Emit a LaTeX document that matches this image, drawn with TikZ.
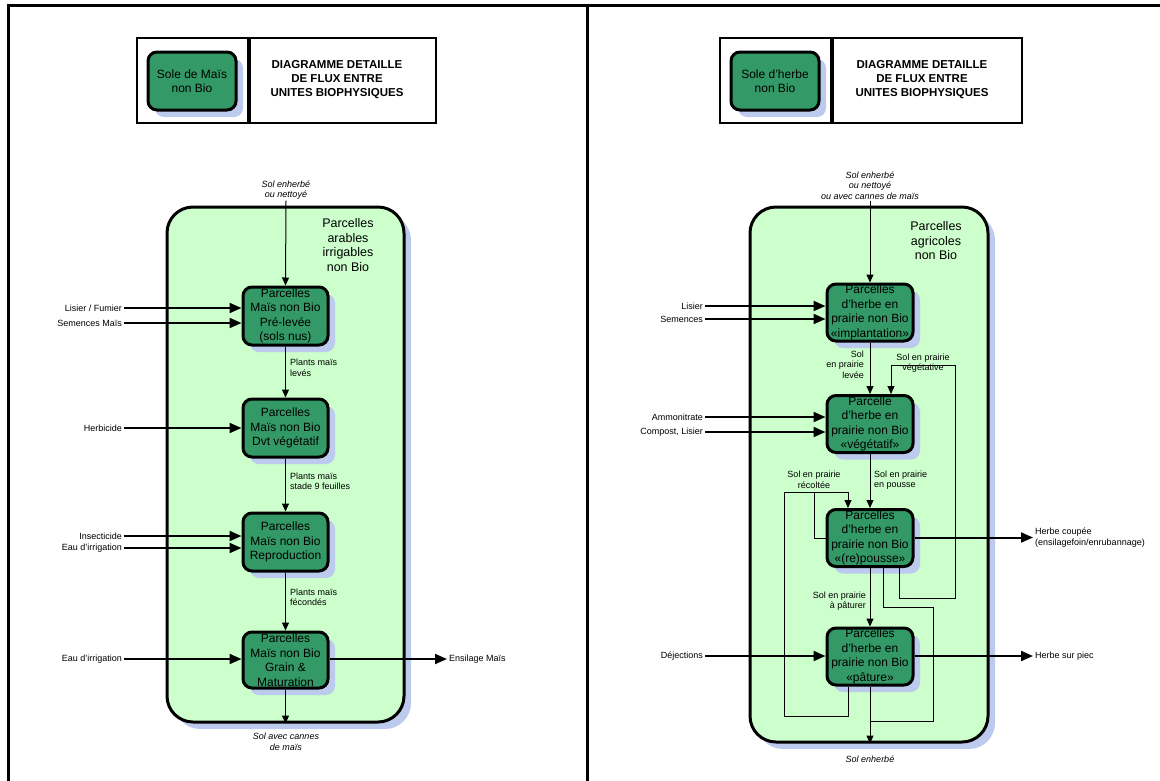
\documentclass[tikz,border=0pt]{standalone}
\usepackage{fontspec}
\setmainfont{Liberation Sans}
\usetikzlibrary{arrows.meta,shadows}
\definecolor{unitgreen}{RGB}{51,153,102}
\definecolor{zonegreen}{RGB}{204,255,204}
\definecolor{shadowblue}{RGB}{188,202,238}

\begin{document}
\begin{tikzpicture}[x=1pt,y=-1pt,
    frame/.style={line width=3pt},
    hdr/.style={draw,line width=2pt,inner sep=0pt,minimum height=85pt},
    title/.style={font=\bfseries\fontsize{11.5}{14}\selectfont,align=center},
    zone/.style={draw,line width=3pt,rounded corners=26pt,fill=zonegreen,
        drop shadow={shadow xshift=7pt,shadow yshift=-7pt,fill=shadowblue,opacity=1}},
    unit/.style={draw,line width=3pt,rounded corners=9pt,fill=unitgreen,inner sep=0pt,
        minimum width=86pt,minimum height=58pt,align=center,font=\fontsize{12}{14.5}\selectfont,
        drop shadow={shadow xshift=7pt,shadow yshift=-7pt,fill=shadowblue,opacity=1}},
    zlbl/.style={font=\fontsize{12.5}{14.5}\selectfont,align=center},
    lbl/.style={font=\fontsize{9}{10.5}\selectfont,inner sep=2pt},
    ilbl/.style={font=\itshape\fontsize{9}{10.5}\selectfont,inner sep=1pt,align=center},
    inarr/.style={line width=2pt,-{Triangle[length=12pt,width=10pt]}},
    flow/.style={line width=1pt,-{Triangle[length=8pt,width=7pt]}},
    link/.style={line width=1pt}
]
\useasboundingbox (0,0) rectangle (1160,780);
\clip (0,0) rectangle (1160,780);

% page frame
\draw[frame] (8,800) -- (8,5) -- (1180,5);
\draw[frame] (587,5) -- (587,800);

% ---------------- mais ----------------
\node[hdr,minimum width=111pt] (hla) at (192.5,80.5) {};
\node[hdr,minimum width=186pt,anchor=west] (hlb) at (hla.east) {};
\node[unit,minimum width=88pt] (sl) at (192,81) {Sole de Maïs\\non Bio};
\node[title] (tl) at (337,80) {DIAGRAMME DETAILLE\\DE FLUX ENTRE\\UNITES BIOPHYSIQUES};

\node[zone,minimum width=237pt,minimum height=515pt] (zl) at (285.5,464.5) {};
\node[zlbl] (zlt) at (348,245) {Parcelles\\arables\\irrigables\\non Bio};

\node[unit,minimum width=85pt] (l1) at (285.5,316) {Parcelles\\Maïs non Bio\\Pré-levée\\(sols nus)};
\node[unit,minimum width=85pt] (l2) at (285.5,428) {Parcelles\\Maïs non Bio\\Dvt végétatif};
\node[unit,minimum width=85pt] (l3) at (285.5,542) {Parcelles\\Maïs non Bio\\Reproduction};
\node[unit,minimum width=85pt,minimum height=56pt] (l4) at (285.5,660) {Parcelles\\Maïs non Bio\\Grain \&\\Maturation};

\node[ilbl] (lin) at (286,190) {Sol enherbé\\ou nettoyé};
\node[ilbl] (lout) at (286,742) {Sol avec cannes\\de maïs};
\draw[flow] (lin.south) -- (l1.north);
\draw[flow] (l1.south) -- (l2.north);
\draw[flow] (l2.south) -- (l3.north);
\draw[flow] (l3.south) -- (l4.north);
\draw[flow] (l4.south) -- (l4.south |- zl.south);
\node[lbl,anchor=west,align=left] (ll1) at (288,368) {Plants maïs\\levés};
\node[lbl,anchor=west,align=left] (ll2) at (288,481.5) {Plants maïs\\stade 9 feuilles};
\node[lbl,anchor=west,align=left] (ll3) at (288,597.5) {Plants maïs\\fécondés};

\node[lbl,anchor=east] (lisier) at (124,308) {Lisier / Fumier};
\node[lbl,anchor=east] (semmais) at (124,323) {Semences Maïs};
\node[lbl,anchor=east] (herbi) at (124,428) {Herbicide};
\node[lbl,anchor=east] (insecti) at (124,536) {Insecticide};
\node[lbl,anchor=east] (eau1) at (124,548) {Eau d'irrigation};
\node[lbl,anchor=east] (eau2) at (124,659) {Eau d'irrigation};
\node[lbl,anchor=west] (ensil) at (447,659) {Ensilage Maïs};
\draw[inarr] (lisier.east) -- (lisier.east -| l1.west);
\draw[inarr] (semmais.east) -- (semmais.east -| l1.west);
\draw[inarr] (herbi.east) -- (herbi.east -| l2.west);
\draw[inarr] (insecti.east) -- (insecti.east -| l3.west);
\draw[inarr] (eau1.east) -- (eau1.east -| l3.west);
\draw[inarr] (eau2.east) -- (eau2.east -| l4.west);
\draw[inarr] (l4.east |- ensil.west) -- (ensil.west);

% ---------------- herbe ----------------
\node[hdr,minimum width=111pt] (hra) at (775.5,80.5) {};
\node[hdr,minimum width=189pt,anchor=west] (hrb) at (hra.east) {};
\node[unit,minimum width=88pt] (sr) at (775,81) {Sole d'herbe\\non Bio};
\node[title] (tr) at (922,80) {DIAGRAMME DETAILLE\\DE FLUX ENTRE\\UNITES BIOPHYSIQUES};

\node[zone,minimum width=238pt,minimum height=535pt] (zr) at (869,474.5) {};
\node[zlbl] (zrt) at (936,241) {Parcelles\\agricoles\\non Bio};

\node[unit,minimum height=57pt] (r1) at (870,312.5) {Parcelles\\d'herbe en\\prairie non Bio\\«implantation»};
\node[unit,minimum height=57pt] (r2) at (870,424) {Parcelle\\d'herbe en\\prairie non Bio\\«végétatif»};
\node[unit,minimum height=57pt] (r3) at (870,538) {Parcelles\\d'herbe en\\prairie non Bio\\«(re)pousse»};
\node[unit,minimum height=57pt] (r4) at (870,656.5) {Parcelles\\d'herbe en\\prairie non Bio\\«pâture»};

\node[ilbl] (rin) at (870,185.5) {Sol enherbé\\ou nettoyé\\ou avec cannes de maïs};
\node[ilbl] (rout) at (870,759) {Sol enherbé};
\draw[flow] (rin.south) -- (r1.north);
\draw[flow] (r1.south) -- (r2.north);
\draw[flow] (r2.south) -- (r3.north);
\draw[flow] (r3.south) -- (r4.north);
\draw[flow] (r4.south) -- (r4.south |- zr.south);

% loops
\draw[flow] ([xshift=29pt]r3.south) |- (955,598) |- (891,365) -- ([xshift=21pt]r2.north);
\draw[flow] (r3.west) -| (814,492) -| ([xshift=-22pt]r3.north);
\draw[link] ([xshift=-22pt]r4.south) |- (784,716) |- (814,492);
\draw[link] ([xshift=13pt]r3.south) |- (933,607) |- (870,721);

\node[lbl,anchor=east,align=right] (rl1) at (866,364.5) {Sol\\en prairie\\levée};
\node[lbl,align=center] (rl2) at (923,363) {Sol en prairie\\végétative};
\node[lbl,anchor=west,align=left] (rl3) at (872,480) {Sol en prairie\\en pousse};
\node[lbl,align=center] (rl4) at (814,480) {Sol en prairie\\récoltée};
\node[lbl,anchor=east,align=right] (rl5) at (868,601) {Sol en prairie\\à pâturer};

\node[lbl,anchor=east] (rlisier) at (705,306) {Lisier};
\node[lbl,anchor=east] (rsem) at (705,319) {Semences};
\node[lbl,anchor=east] (ammo) at (705,417) {Ammonitrate};
\node[lbl,anchor=east] (compost) at (705,432) {Compost, Lisier};
\node[lbl,anchor=east] (deject) at (705,656) {Déjections};
\node[lbl,anchor=west,align=left] (coupe) at (1033,537.5) {Herbe coupée\\(ensilagefoin/enrubannage)};
\node[lbl,anchor=west] (piec) at (1033,656) {Herbe sur piec};
\draw[inarr] (rlisier.east) -- (rlisier.east -| r1.west);
\draw[inarr] (rsem.east) -- (rsem.east -| r1.west);
\draw[inarr] (ammo.east) -- (ammo.east -| r2.west);
\draw[inarr] (compost.east) -- (compost.east -| r2.west);
\draw[inarr] (deject.east) -- (deject.east -| r4.west);
\draw[inarr] (r3.east |- coupe.west) -- (coupe.west);
\draw[inarr] (r4.east |- piec.west) -- (piec.west);
\end{tikzpicture}
\end{document}
